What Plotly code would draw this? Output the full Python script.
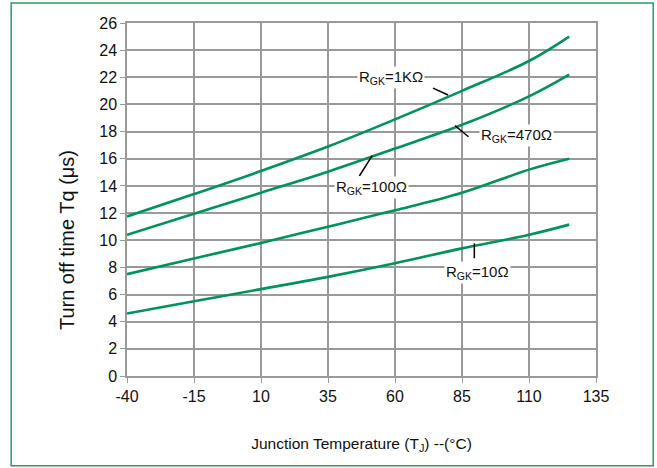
import plotly.graph_objects as go

temps = [-40, -15, 10, 35, 60, 85, 110, 125]
tq_1k = [11.75, 13.4, 15.1, 16.9, 18.9, 21.0, 23.2, 25.0]
tq_470 = [10.4, 11.95, 13.5, 15.05, 16.75, 18.5, 20.6, 22.2]
tq_100 = [7.5, 8.65, 9.8, 11.0, 12.2, 13.5, 15.2, 16.0]
tq_10 = [4.6, 5.5, 6.4, 7.3, 8.3, 9.4, 10.4, 11.15]

x_ticks = [-40, -15, 10, 35, 60, 85, 110, 135]
y_ticks = list(range(0, 27, 2))

labels = ["R<sub>GK</sub>=1KΩ", "R<sub>GK</sub>=470Ω", "R<sub>GK</sub>=100Ω", "R<sub>GK</sub>=10Ω"]
label_pos = [(58.5, 22.0), (105.5, 17.7), (51.2, 13.85), (90.8, 7.6)]
pointers = [((74.2, 21.2), (79.8, 20.7)),
            ((82.4, 18.44), (87.4, 17.62)),
            ((51.5, 16.23), (46.7, 14.73)),
            ((89.6, 9.77), (89.6, 8.67))]

GREEN = "#00945a"
GRID = "#9a9a9a"
FONT = "Liberation Sans, Arial, sans-serif"

fig = go.Figure()
for ys in [tq_1k, tq_470, tq_100, tq_10]:
    fig.add_trace(go.Scatter(x=temps, y=ys, mode="lines", line=dict(color=GREEN, width=2.6, shape="spline"),
                             showlegend=False, hoverinfo="skip"))

for (txt, (lx, ly)) in zip(labels, label_pos):
    fig.add_annotation(x=lx, y=ly, text=txt, showarrow=False, xanchor="center", yanchor="middle",
                       font=dict(family=FONT, size=15, color="#111"), bgcolor="white")
for (p0, p1) in pointers:
    fig.add_shape(type="line", x0=p0[0], y0=p0[1], x1=p1[0], y1=p1[1], line=dict(color="black", width=1.5))

fig.add_shape(type="rect", xref="paper", yref="paper", x0=-0.247, x1=1.122, y0=-0.254, y1=1.057,
              line=dict(color="#2a9e62", width=1.5), layer="below")

fig.add_annotation(xref="paper", yref="paper", x=-0.128, y=0.385, text="Turn off time Tq (μs)", textangle=-90,
                   showarrow=False, xanchor="center", yanchor="middle",
                   font=dict(family=FONT, size=20, color="#111"))

axis_common = dict(showgrid=True, gridcolor=GRID, gridwidth=1.5, showline=True, linecolor=GRID, linewidth=1.5,
                   mirror=True, ticks="outside", ticklen=5, tickcolor=GRID, zeroline=False,
                   tickfont=dict(family=FONT, size=16, color="#111"))

fig.update_xaxes(range=[-40, 135], tickvals=x_ticks, ticktext=[str(v) for v in x_ticks],
                 title=dict(text="Junction Temperature (T<sub>J</sub>) --(°C)", font=dict(family=FONT, size=15.5, color="#111"),
                            standoff=34), **axis_common)
fig.update_yaxes(range=[0, 26], tickvals=y_ticks, ticktext=[str(v) for v in y_ticks], **axis_common)

fig.update_layout(width=657, height=468, margin=dict(l=127, r=61, t=23, b=92, autoexpand=False),
                  plot_bgcolor="white", paper_bgcolor="white")

fig.write_html("out.html", config={"displayModeBar": False},
               post_script="document.body.style.margin='0';document.body.style.overflow='hidden';")
